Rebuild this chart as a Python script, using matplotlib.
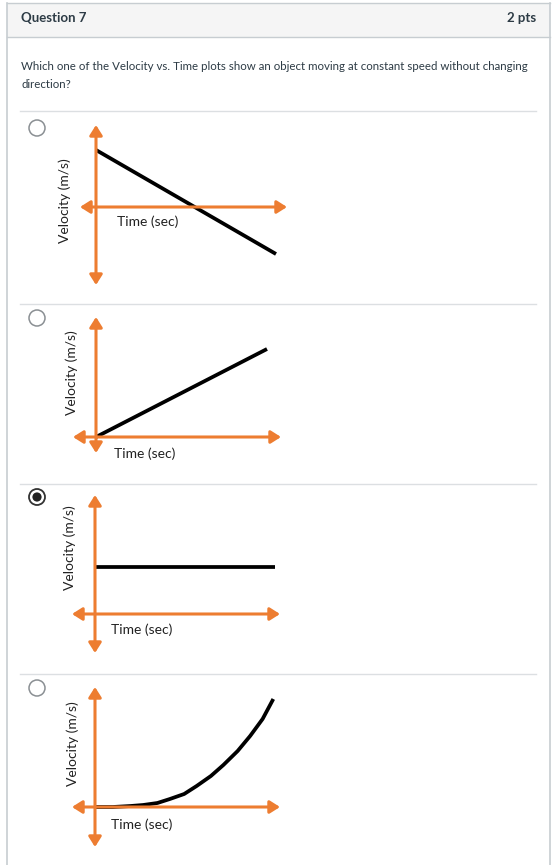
import matplotlib
matplotlib.use('Agg')
import matplotlib.pyplot as plt
from matplotlib.patches import Rectangle, Circle
import numpy as np

plt.rcParams['font.family'] = ['Lato', 'DejaVu Sans']

# question text
title = 'Question 7'
points = '2 pts'
question = ['Which one of the Velocity vs. Time plots show an object moving at constant speed without changing',
            'direction?']
xlabel = 'Time (sec)'
ylabel = 'Velocity (m/s)'
selected = [False, False, True, False]

# velocity vs time for each option (t in sec, v in m/s)
t1 = [0, 10]
v1 = [5.7, -4.7]
t2 = [0, 10]
v2 = [0, 8.8]
t3 = [0, 10]
v3 = [4.7, 4.7]
t4 = [0, 1.0, 2.0, 2.7, 3.5, 4.2, 5.0, 5.7, 6.5, 7.2, 8.0, 8.7, 9.4, 10.0]
v4 = [0, 0, 0.1, 0.2, 0.4, 0.8, 1.3, 2.1, 3.1, 4.2, 5.6, 7.1, 8.8, 10.8]

W, H = 560, 865
orange = '#ed7d31'
txt = '#2d3b45'
border = '#c7cdd1'

fig = plt.figure(figsize=(W / 100, H / 100), dpi=100)
bg = fig.add_axes([0, 0, 1, 1])
bg.set_xlim(0, W)
bg.set_ylim(H, 0)
bg.axis('off')

# card frame + header
bg.add_patch(Rectangle((7, 3), 543, 34, facecolor='#f5f5f5', edgecolor='none'))
bg.plot([7, 550], [3, 3], color=border, lw=1)
bg.plot([7, 550], [37, 37], color=border, lw=1)
bg.plot([7, 7], [3, H], color=border, lw=1.2)
bg.plot([550, 550], [3, H], color=border, lw=1.2)
bg.text(21, 18, title, fontsize=9.5, fontweight='bold', color=txt, va='center')
bg.text(536, 18, points, fontsize=9.5, fontweight='bold', color=txt, va='center', ha='right')
bg.text(21, 66, question[0], fontsize=8.3, color=txt, va='center')
bg.text(21, 84, question[1], fontsize=8.3, color=txt, va='center')

for y in [111, 304, 484, 674]:
    bg.plot([20, 536], [y, y], color='#dcdfe2', lw=1)

# radio buttons
radio_y = [128, 318, 497, 688]
for ry, sel in zip(radio_y, selected):
    if sel:
        bg.add_patch(Circle((37, ry), 8, facecolor='white', edgecolor='#333333', lw=1.3))
        bg.add_patch(Circle((37, ry), 4.6, facecolor='#222222', edgecolor='none'))
    else:
        bg.add_patch(Circle((37, ry), 8, facecolor='white', edgecolor='#8a8f93', lw=1.1))

# panel layout: origin px, px per unit (t, v), horizontal arrow px span, vertical arrow px span
panels = [
    dict(t=t1, v=v1, o=(96, 207), s=(18.0, 10.0), hx=(80, 287), vy=(125, 285),
         tl=(148, 222), vl=(65, 201)),
    dict(t=t2, v=v2, o=(96, 437), s=(17.1, 10.0), hx=(73, 281), vy=(317, 453),
         tl=(145, 454), vl=(72, 373)),
    dict(t=t3, v=v3, o=(95, 614), s=(18.0, 10.0), hx=(72, 280), vy=(495, 653),
         tl=(142, 630), vl=(70, 548)),
    dict(t=t4, v=v4, o=(95, 807), s=(17.83, 10.0), hx=(72, 280), vy=(687, 847),
         tl=(142, 825), vl=(73, 744)),
]

arrow = dict(arrowstyle='<|-|>,head_length=0.6,head_width=0.38', color=orange, lw=2.2,
             shrinkA=0, shrinkB=0)

for p in panels:
    ox, oy = p['o']
    sx, sy = p['s']
    l, r = p['hx']
    top, bot = p['vy']
    ax = fig.add_axes([l / W, 1 - bot / H, (r - l) / W, (bot - top) / H])
    ax.set_xlim((l - ox) / sx, (r - ox) / sx)
    ax.set_ylim((oy - bot) / sy, (oy - top) / sy)
    ax.axis('off')
    x0, x1 = ax.get_xlim()
    y0, y1 = ax.get_ylim()
    ax.annotate('', xy=(x1, 0), xytext=(x0, 0), arrowprops=arrow, annotation_clip=False)
    ax.annotate('', xy=(0, y1), xytext=(0, y0), arrowprops=arrow, annotation_clip=False)
    ax.plot(p['t'], p['v'], color='black', lw=2.7, solid_capstyle='butt',
            solid_joinstyle='round', clip_on=False)
    bg.text(p['tl'][0], p['tl'][1], xlabel, fontsize=10, color='#222222', ha='center', va='center')
    bg.text(p['vl'][0], p['vl'][1], ylabel, fontsize=10, color='#222222', ha='center', va='center',
            rotation=90)

fig.savefig('out.png', dpi=100)
